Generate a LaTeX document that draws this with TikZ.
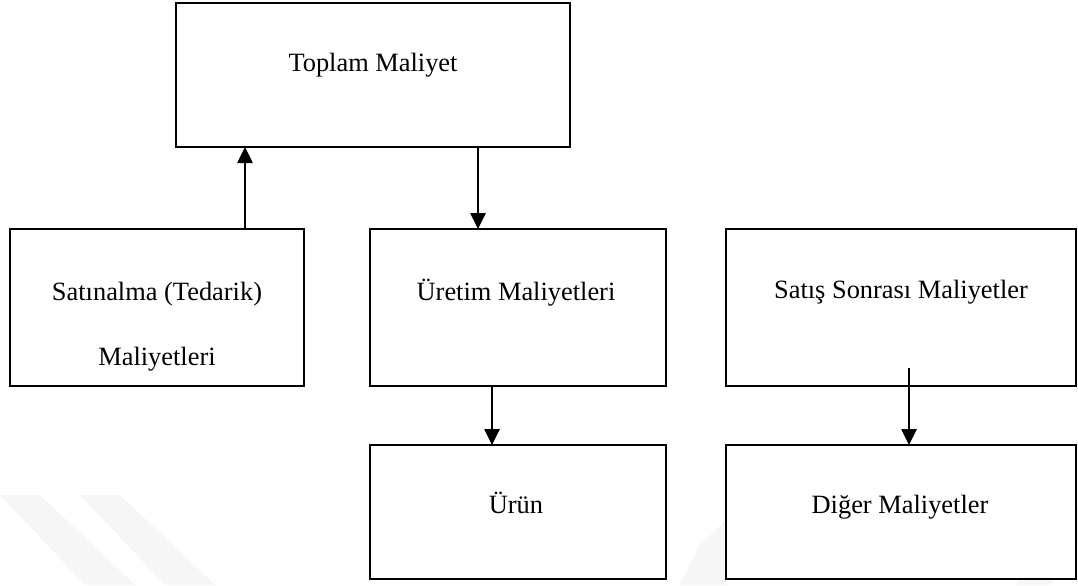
\documentclass[tikz,border=0pt]{standalone}
\usepackage{fontspec}
\setmainfont{Liberation Serif}
\usetikzlibrary{arrows.meta}
\begin{document}
\begin{tikzpicture}[x=0.5pt,y=-0.5pt,
  box/.style={draw=black,fill=white,line width=1.3pt,rectangle,inner sep=0pt,outer sep=0pt},
  lbl/.style={anchor=base,inner sep=0pt,font=\fontsize{13.2}{15.8}\selectfont},
  conn/.style={line width=1.3pt,-{Triangle[length=8pt,width=7.5pt]}},
  wm/.style={fill=gray!7,draw=none}]
\useasboundingbox (0,0) rectangle (1078,585);
% faint watermark
\fill[wm] (0,495) -- (40,495) -- (135,585) -- (85,585) -- cycle;
\fill[wm] (80,495) -- (120,495) -- (215,585) -- (165,585) -- cycle;
\fill[wm] (700,545) -- (726,520) -- (726,585) -- (680,585) -- cycle;
\fill[wm] (1078,505) -- (1078,545) -- (1050,585) -- (1015,585) -- cycle;
% boxes
\node[box,minimum width=197pt,minimum height=72pt] (top) at (373,75) {};
\node[box,minimum width=147pt,minimum height=78.5pt] (sat) at (157,307.5) {};
\node[box,minimum width=148pt,minimum height=78.5pt] (ure) at (518,307.5) {};
\node[box,minimum width=175pt,minimum height=78.5pt] (sss) at (901,307.5) {};
\node[box,minimum width=148pt,minimum height=67pt] (urun) at (518,512) {};
\node[box,minimum width=175pt,minimum height=67pt] (dig) at (901,512) {};
% texts
\node[lbl] (ttop) at (373,71) {Toplam Maliyet};
\node[lbl] (tsat1) at (157,300) {Satınalma (Tedarik)};
\node[lbl] (tsat2) at (157,365) {Maliyetleri};
\node[lbl] (ture) at (516,300) {Üretim Maliyetleri};
\node[lbl] (tsss) at (901,298) {Satış Sonrası Maliyetler};
\node[lbl] (turun) at (516,513) {Ürün};
\node[lbl] (tdig) at (900,513) {Diğer Maliyetler};
% connectors
\coordinate (a1) at (245,229);
\draw[conn] (a1) -- (a1 |- top.south);
\coordinate (a2) at (478,147);
\draw[conn] (a2) -- (a2 |- ure.north);
\coordinate (a3) at (492,386);
\draw[conn] (a3) -- (a3 |- urun.north);
\coordinate (a4) at (909,368);
\draw[conn] (a4) -- (a4 |- dig.north);
\end{tikzpicture}
\end{document}
